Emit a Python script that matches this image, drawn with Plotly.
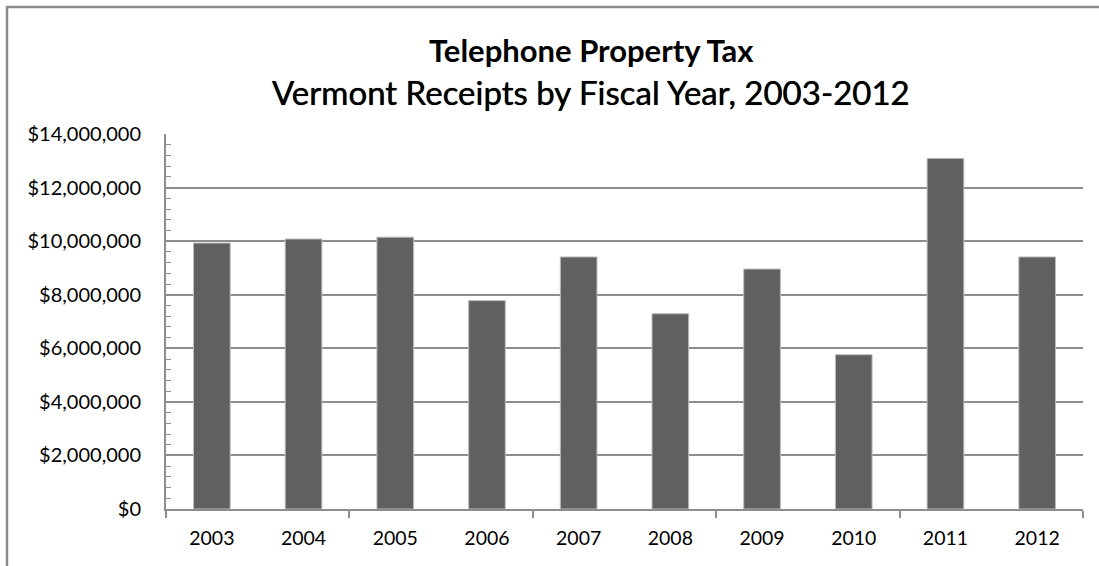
import plotly.graph_objects as go

# Vermont telephone property tax receipts, fiscal years 2003-2012
years = ["2003", "2004", "2005", "2006", "2007", "2008", "2009", "2010", "2011", "2012"]
receipts = [9930000, 10080000, 10150000, 7780000, 9410000, 7290000, 8960000, 5760000, 13090000, 9410000]
y_ticks = [0, 2000000, 4000000, 6000000, 8000000, 10000000, 12000000, 14000000]
y_tick_labels = ["$0", "$2,000,000", "$4,000,000", "$6,000,000", "$8,000,000",
                 "$10,000,000", "$12,000,000", "$14,000,000"]

W, H = 1099, 566
ML, MR, MT, MB = 166, 16, 134, 57
PW, PH = W - ML - MR, H - MT - MB


def px_x(p):
    return (p - ML) / PW


def px_y(p):
    return (H - MB - p) / PH


FONT = "Lato"
GRID = "#8e8e8e"

positions = list(range(len(years)))

fig = go.Figure(
    go.Bar(
        x=positions,
        y=receipts,
        marker=dict(color="#606060", line=dict(color="#bdbdbd", width=1)),
        width=0.4,
        hoverinfo="x+y",
    )
)

fig.update_layout(
    width=W,
    height=H,
    margin=dict(l=ML, r=MR, t=MT, b=MB, pad=0),
    paper_bgcolor="white",
    plot_bgcolor="white",
    showlegend=False,
    font=dict(family=FONT, size=20, color="#000000"),
)

fig.update_xaxes(
    range=[-0.5, len(years) - 0.5],
    tickmode="array",
    tickvals=positions,
    ticktext=years,
    ticks="",
    showgrid=False,
    zeroline=False,
    showline=True,
    linecolor=GRID,
    linewidth=2,
    ticklabelstandoff=11,
    minor=dict(tick0=-0.5, dtick=2, ticks="outside", ticklen=7, tickcolor=GRID, tickwidth=2, showgrid=False),
    tickfont=dict(family=FONT, size=19.5),
)

fig.update_yaxes(
    range=[0, 14000000],
    tickmode="array",
    tickvals=y_ticks,
    ticktext=y_tick_labels,
    showgrid=True,
    gridcolor=GRID,
    gridwidth=2,
    zeroline=False,
    showline=True,
    linecolor=GRID,
    linewidth=2,
    ticks="inside",
    ticklen=5,
    tickcolor=GRID,
    tickwidth=1,
    ticklabelstandoff=19,
    minor=dict(dtick=400000, tick0=0, ticks="inside", ticklen=5, tickcolor=GRID, tickwidth=1, showgrid=False),
    tickfont=dict(family=FONT, size=20),
)

# Chart border (top and left edges)
fig.add_shape(
    type="path",
    xref="paper",
    yref="paper",
    path=f"M {px_x(7)} {px_y(H + 5)} L {px_x(7)} {px_y(7)} L {px_x(W + 5)} {px_y(7)}",
    line=dict(color="#8c8c8c", width=2.5),
    layer="above",
)

# Two-line title: bold first line, heavier regular second line
title_lines = [("<b>Telephone Property Tax</b>", 50, 31, "none"),
               ("Vermont Receipts by Fiscal Year, 2003-2012", 92, 33, "0px 0px 0.7px #000")]
for text, cy, size, shadow in title_lines:
    fig.add_annotation(
        xref="paper",
        yref="paper",
        x=px_x(591),
        y=px_y(cy),
        text=text,
        showarrow=False,
        xanchor="center",
        yanchor="middle",
        font=dict(family=FONT, size=size, color="#000000", shadow=shadow),
    )

fig.write_html("out.html")
